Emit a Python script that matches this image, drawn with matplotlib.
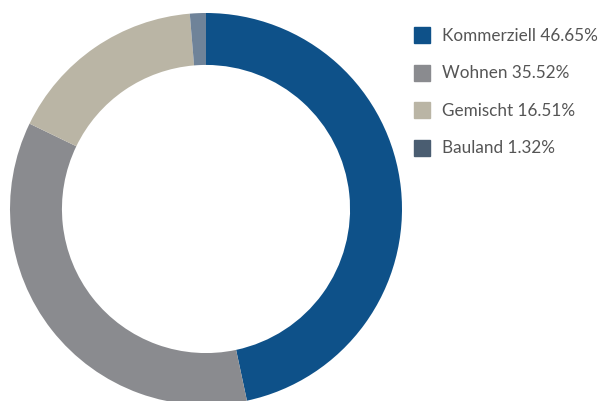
import matplotlib.pyplot as plt
from matplotlib.patches import Rectangle

# Daten
labels = ['Kommerziell', 'Wohnen', 'Gemischt', 'Bauland']
values = [46.65, 35.52, 16.51, 1.32]
wedge_colors = ['#0e5189', '#8a8b8f', '#bab5a5', '#6f8399']
legend_colors = ['#0e5189', '#8a8b8f', '#bab5a5', '#4a5d71']

W, H = 600, 402
fig = plt.figure(figsize=(W / 100, H / 100), dpi=100)

# Ring: Mittelpunkt ca. (206, 210), Radius 196 px
ax = fig.add_axes([10 / W, (H - 406) / H, 392 / W, 392 / H])
ax.pie(values, colors=wedge_colors, startangle=90, counterclock=False,
       radius=1.0, wedgeprops=dict(width=0.265, edgecolor='none'))
ax.set_xlim(-1, 1)
ax.set_ylim(-1, 1)
ax.set_aspect('equal')
ax.axis('off')

# Legende
y0, dy = 36, 37.5
for i, (lab, val) in enumerate(zip(labels, values)):
    yc = y0 + i * dy
    fig.patches.append(Rectangle((414 / W, (H - yc - 8) / H), 16 / W, 16 / H,
                                 transform=fig.transFigure, color=legend_colors[i]))
    fig.text(442 / W, (H - yc) / H, f'{lab} {val:.2f}%', fontsize=12.3,
             family='Lato', color='#555555', va='center', ha='left')

fig.savefig('out.png', dpi=100)
